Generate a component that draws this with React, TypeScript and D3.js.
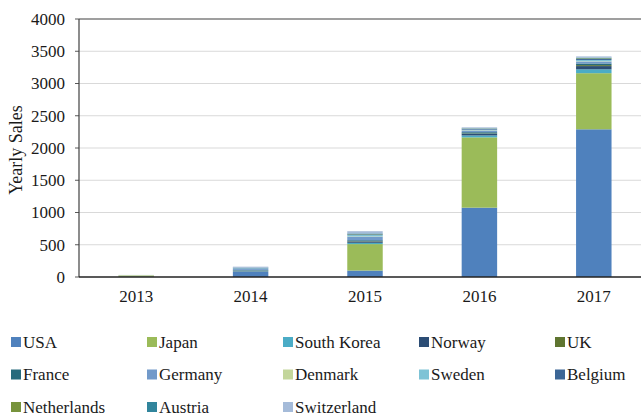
import * as d3 from "d3";
import React from "react";

const years = ["2013", "2014", "2015", "2016", "2017"];
const countries = [
  "USA", "Japan", "South Korea", "Norway", "UK",
  "France", "Germany", "Denmark", "Sweden", "Belgium",
  "Netherlands", "Austria", "Switzerland",
];
const colors = [
  "#4f81bd", "#9bbb59", "#4bacc6", "#2c4d75", "#5f7530",
  "#276a7c", "#729aca", "#c3d69b", "#7ec3d6", "#3c6696",
  "#77933c", "#31859c", "#a5bbd9",
];
// values per country, one per year (2013..2017)
const usa = [5, 90, 100, 1075, 2290];
const japan = [10, 5, 410, 1090, 870];
const southKorea = [0, 5, 20, 30, 60];
const norway = [3, 5, 20, 25, 50];
const uk = [0, 0, 5, 5, 15];
const france = [0, 5, 15, 20, 25];
const germany = [0, 15, 55, 25, 30];
const denmark = [12, 0, 5, 5, 5];
const sweden = [0, 10, 20, 10, 20];
const belgium = [0, 5, 10, 10, 15];
const netherlands = [0, 0, 5, 5, 10];
const austria = [0, 5, 10, 5, 10];
const switzerland = [2, 15, 35, 15, 20];
const yTicks = [0, 500, 1000, 1500, 2000, 2500, 3000, 3500, 4000];

const series = [
  usa, japan, southKorea, norway, uk, france, germany,
  denmark, sweden, belgium, netherlands, austria, switzerland,
];

export default function App() {
  const W = 641;
  const H = 416;
  const left = 79;
  const right = 651;
  const top = 19;
  const bottom = 277;
  const txt = { fontFamily: "'Liberation Serif', 'Times New Roman', serif" };

  const rows = years.map((y, i) => {
    const r: Record<string, number | string> = { year: y };
    countries.forEach((c, k) => (r[c] = series[k][i]));
    return r;
  });
  const stacked = d3.stack<any>().keys(countries)(rows);

  const x = d3.scaleBand().domain(years).range([left, right]).paddingInner(0.69).paddingOuter(0.345);
  const y = d3.scaleLinear().domain([0, 4000]).range([bottom, top]);
  const color = d3.scaleOrdinal<string>().domain(countries).range(colors);

  return (
    <svg width={W} height={H} style={{ position: "fixed", left: 0, top: 0, background: "#fff" }}>
      {yTicks.map((t) => (
        <g key={t}>
          {t > 0 && t < 4000 && (
            <line x1={left} x2={W} y1={y(t)} y2={y(t)} stroke="#d9d9d9" strokeWidth={1} />
          )}
          <line x1={left - 4} x2={left} y1={y(t)} y2={y(t)} stroke="#595959" />
          <text x={65} y={y(t)} dy="0.35em" textAnchor="end" style={txt} fontSize={17} fill="#1a1a1a">
            {t}
          </text>
        </g>
      ))}
      {stacked.map((s) => (
        <g key={s.key} fill={color(s.key)}>
          {s.map((d, i) => (
            <rect
              key={i}
              x={x(years[i])}
              y={y(d[1])}
              width={x.bandwidth()}
              height={Math.max(0, y(d[0]) - y(d[1]))}
            />
          ))}
        </g>
      ))}
      <line x1={left} x2={W} y1={top} y2={top} stroke="#404040" strokeWidth={1.2} />
      <line x1={left} x2={left} y1={top} y2={bottom} stroke="#404040" strokeWidth={1.2} />
      <line x1={left} x2={W} y1={bottom} y2={bottom} stroke="#222" strokeWidth={1.5} />
      {years.map((yr) => (
        <text key={yr} x={x(yr)! + x.bandwidth() / 2} y={302} textAnchor="middle" style={txt} fontSize={17} fill="#1a1a1a">
          {yr}
        </text>
      ))}
      <text
        transform={`translate(22,150) rotate(-90)`}
        textAnchor="middle"
        style={txt}
        fontSize={18}
        fill="#1a1a1a"
      >
        Yearly Sales
      </text>
      {countries.map((c, i) => {
        const col = i % 5;
        const row = Math.floor(i / 5);
        const lx = 11 + col * 136;
        const ly = 342 + row * 32.5;
        return (
          <g key={c}>
            <rect x={lx} y={ly - 5} width={10} height={10} fill={color(c)} />
            <text x={lx + 12} y={ly} dy="0.35em" style={txt} fontSize={17} fill="#1a1a1a">
              {c}
            </text>
          </g>
        );
      })}
    </svg>
  );
}
